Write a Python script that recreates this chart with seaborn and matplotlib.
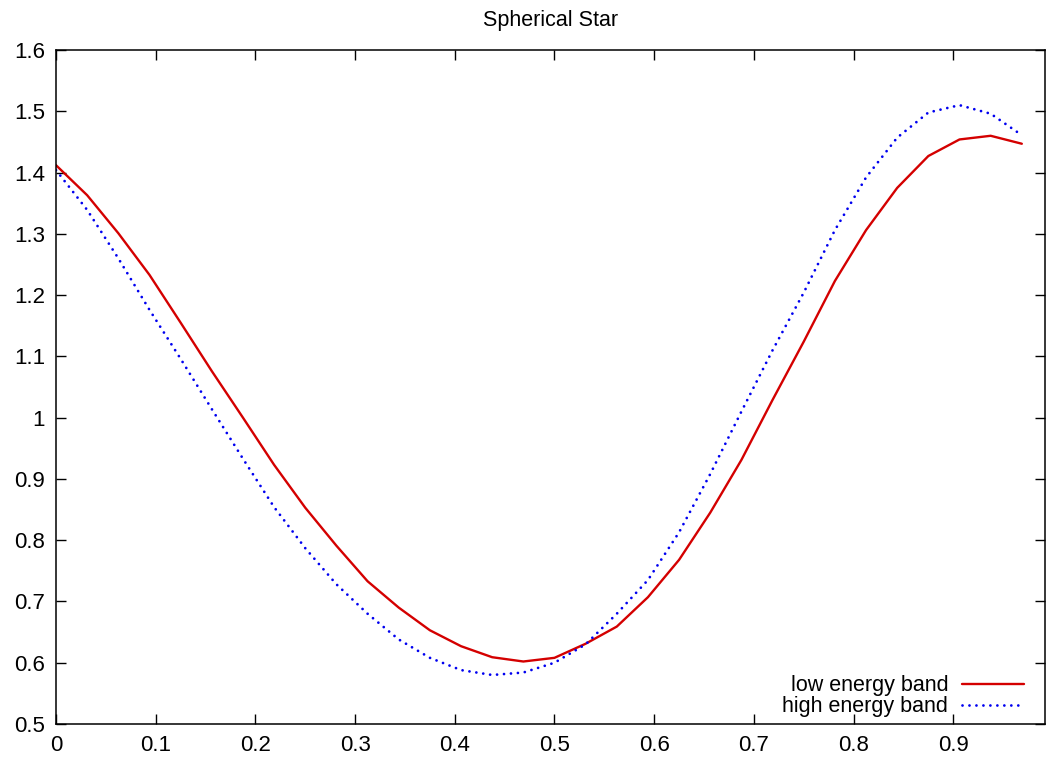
import numpy as np
import pandas as pd
import matplotlib
matplotlib.use("Agg")
import matplotlib.pyplot as plt
from matplotlib.ticker import FormatStrFormatter, MultipleLocator
import seaborn as sns

# Pulse profile of a spherical star, sampled at 32 phase bins
phase = [0.0, 0.03125, 0.0625, 0.09375, 0.125, 0.15625, 0.1875, 0.21875,
         0.25, 0.28125, 0.3125, 0.34375, 0.375, 0.40625, 0.4375, 0.46875,
         0.5, 0.53125, 0.5625, 0.59375, 0.625, 0.65625, 0.6875, 0.71875,
         0.75, 0.78125, 0.8125, 0.84375, 0.875, 0.90625, 0.9375, 0.96875]

low_band = [1.412, 1.363, 1.301, 1.233, 1.155, 1.076, 1.000, 0.923,
            0.853, 0.791, 0.733, 0.690, 0.653, 0.627, 0.609, 0.602,
            0.608, 0.631, 0.659, 0.707, 0.768, 0.845, 0.931, 1.029,
            1.124, 1.223, 1.306, 1.375, 1.427, 1.454, 1.460, 1.447]

high_band = [1.404, 1.339, 1.260, 1.176, 1.096, 1.014, 0.933, 0.854,
             0.787, 0.728, 0.680, 0.638, 0.608, 0.588, 0.580, 0.584,
             0.600, 0.630, 0.680, 0.735, 0.813, 0.908, 1.010, 1.110,
             1.204, 1.306, 1.392, 1.457, 1.498, 1.510, 1.496, 1.461]

band_labels = ["low energy band", "high energy band"]
band_colors = ["#d40000", "#0000f0"]

df = pd.concat([
    pd.DataFrame({"phase": phase, "flux": low_band, "band": band_labels[0]}),
    pd.DataFrame({"phase": phase, "flux": high_band, "band": band_labels[1]}),
], ignore_index=True)

sns.set_theme(style="ticks")
plt.rcParams["font.family"] = ["Liberation Sans", "DejaVu Sans"]
plt.rcParams["text.color"] = "black"

fig = plt.figure(figsize=(10.46, 7.57), dpi=100)
ax = fig.add_axes([56 / 1046, 33 / 757, 989 / 1046, 674 / 757])

sns.lineplot(
    data=df, x="phase", y="flux", hue="band", style="band",
    hue_order=band_labels, style_order=band_labels,
    palette=dict(zip(band_labels, band_colors)),
    dashes={band_labels[0]: "", band_labels[1]: (0.01, 2.5)},
    estimator=None, sort=True, legend=False, ax=ax,
)

lines = ax.get_lines()
lines[0].set_linewidth(1.7)
lines[1].set_linewidth(2.0)
lines[1].set_dash_capstyle("round")

ax.set_xlim(0, 0.992)
ax.set_ylim(0.5, 1.6)
ax.set_xticks([0.0, 0.1, 0.2, 0.3, 0.4, 0.5, 0.6, 0.7, 0.8, 0.9])
ax.yaxis.set_major_locator(MultipleLocator(0.1))
ax.xaxis.set_major_formatter(FormatStrFormatter("%g"))
ax.yaxis.set_major_formatter(FormatStrFormatter("%g"))
ax.set_xlabel("")
ax.set_ylabel("")

for side in ["top", "right", "bottom", "left"]:
    ax.spines[side].set_visible(True)
    ax.spines[side].set_linewidth(1.1)
    ax.spines[side].set_color("black")

ax.tick_params(axis="both", which="major", direction="in", length=7, width=1,
               top=True, right=True, labelsize=16, color="black",
               labelcolor="black")
ax.tick_params(axis="y", pad=8)
ax.tick_params(axis="x", pad=8)

ax.set_title("Spherical Star", fontsize=15.5, pad=17, color="black")

leg = ax.legend(lines, band_labels, loc="lower right",
                bbox_to_anchor=(0.979, 0.010), frameon=False, markerfirst=False,
                fontsize=15.5, handlelength=2.88, handletextpad=0.65,
                labelspacing=0.0, borderpad=0, borderaxespad=0)
for t in leg.get_texts():
    t.set_color("black")

fig.savefig("out.png", dpi=100, facecolor="white")
